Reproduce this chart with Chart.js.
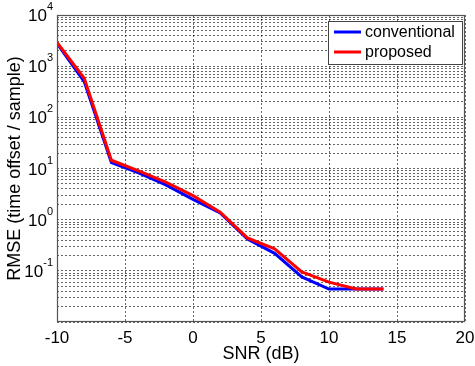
<!DOCTYPE html>
<html>
<head>
<meta charset="utf-8">
<script src="https://cdn.jsdelivr.net/npm/chart.js@4/dist/chart.umd.min.js"></script>
<style>
  html, body { margin: 0; padding: 0; background: #fff; }
  canvas { display: block; }
</style>
</head>
<body>
<canvas id="rmseChart" width="475" height="366"></canvas>
<script>
// DATA
const snr = [-10, -8, -6, -4, -2, 0, 2, 4, 6, 8, 10, 12, 14];
const conventional = [2800, 500, 13, 8.2, 4.8, 2.5, 1.35, 0.42, 0.22, 0.076, 0.044, 0.044, 0.044];
const proposed = [2900, 580, 14.5, 9, 5.4, 2.95, 1.4, 0.44, 0.27, 0.095, 0.06, 0.044, 0.044];
const seriesNames = ["conventional", "proposed"];
const xTicks = [-10, -5, 0, 5, 10, 15, 20];
const yDecades = [-2, -1, 0, 1, 2, 3, 4];
const yLabelDecades = [-1, 0, 1, 2, 3, 4];

const FONT = "'Liberation Sans', Arial, Helvetica, sans-serif";

// y labels as 10 with a raised exponent
const yLabelPlugin = {
    id: "yLabels",
    afterDraw(chart) {
        const ctx = chart.ctx;
        const y = chart.scales.y;
        ctx.save();
        ctx.fillStyle = "#000";
        yLabelDecades.forEach(e => {
            const py = y.getPixelForValue(Math.pow(10, e));
            const exp = String(e);
            ctx.font = "11px " + FONT;
            const ew = ctx.measureText(exp).width;
            const right = 53;
            ctx.textBaseline = "alphabetic";
            ctx.textAlign = "left";
            ctx.fillText(exp, right - ew, py - 5);
            ctx.font = "17px " + FONT;
            ctx.textAlign = "right";
            ctx.fillText("10", right - ew, py + 6);
        });
        ctx.restore();
    }
};

// axes box + legend
const boxPlugin = {
    id: "boxAndLegend",
    afterDraw(chart) {
        const ctx = chart.ctx;
        const a = chart.chartArea;
        ctx.save();
        ctx.strokeStyle = "#555";
        ctx.lineWidth = 1.2;
        ctx.strokeRect(a.left + 0.5, a.top + 0.5, a.right - a.left - 1, a.bottom - a.top - 1);

        // legend
        const lx = 328, ly = 21, lw = 134, lh = 43;
        ctx.fillStyle = "#fff";
        ctx.fillRect(lx, ly, lw, lh);
        ctx.strokeStyle = "#444";
        ctx.lineWidth = 1;
        ctx.strokeRect(lx + 0.5, ly + 0.5, lw, lh);
        ctx.font = "16px " + FONT;
        ctx.textBaseline = "middle";
        ctx.textAlign = "left";
        chart.data.datasets.forEach((ds, i) => {
            const yy = ly + 11 + i * 20;
            ctx.strokeStyle = ds.borderColor;
            ctx.lineWidth = 3;
            ctx.beginPath();
            ctx.moveTo(334, yy);
            ctx.lineTo(361, yy);
            ctx.stroke();
            ctx.fillStyle = "#000";
            ctx.fillText(ds.label, 365, yy + 1);
        });
        ctx.restore();
    }
};

const gridStyle = {
    color: "rgba(0,0,0,0.6)",
    lineWidth: 1,
    drawTicks: false
};

new Chart(document.getElementById("rmseChart"), {
    type: "line",
    data: {
        labels: snr,
        datasets: [
            {
                label: seriesNames[0],
                data: snr.map((x, i) => ({ x, y: conventional[i] })),
                borderColor: "#0000ff",
                borderWidth: 3,
                pointRadius: 0,
                tension: 0,
                fill: false,
                order: 1
            },
            {
                label: seriesNames[1],
                data: snr.map((x, i) => ({ x, y: proposed[i] })),
                borderColor: "#ff0000",
                borderWidth: 3,
                pointRadius: 0,
                tension: 0,
                fill: false,
                order: 0
            }
        ]
    },
    options: {
        responsive: false,
        animation: false,
        layout: { padding: { top: 15, right: 10, left: 0, bottom: 0 } },
        plugins: {
            legend: { display: false },
            tooltip: { enabled: false }
        },
        scales: {
            x: {
                type: "linear",
                min: -10,
                max: 20,
                afterBuildTicks: s => { s.ticks = xTicks.map(v => ({ value: v })); },
                afterFit: s => {
                    s.height = 44;
                    s.paddingLeft = 0;
                    s.paddingRight = 0;
                },
                grid: gridStyle,
                border: { display: false, dash: [2, 2] },
                ticks: {
                    color: "#000",
                    font: { family: FONT, size: 17 },
                    padding: 6,
                    maxRotation: 0,
                    autoSkip: false
                },
                title: {
                    display: true,
                    text: "SNR (dB)",
                    color: "#000",
                    font: { family: FONT, size: 18 },
                    padding: { top: 0, bottom: 1 }
                }
            },
            y: {
                type: "logarithmic",
                min: 0.01,
                max: 10000,
                afterBuildTicks: s => {
                    const t = [];
                    yDecades.forEach(e => {
                        for (let k = 1; k <= 9; k++) {
                            const v = k * Math.pow(10, e);
                            if (v <= 10000) t.push({ value: v });
                        }
                    });
                    s.ticks = t;
                },
                afterFit: s => {
                    s.width = 57;
                    s.paddingTop = 0;
                    s.paddingBottom = 0;
                },
                grid: gridStyle,
                border: { display: false, dash: [2, 2] },
                ticks: { callback: () => "", padding: 0, autoSkip: false },
                title: {
                    display: true,
                    text: "RMSE (time offset / sample)",
                    color: "#000",
                    font: { family: FONT, size: 18 },
                    padding: { top: 4, bottom: 0 }
                }
            }
        }
    },
    plugins: [yLabelPlugin, boxPlugin]
});
</script>
</body>
</html>
